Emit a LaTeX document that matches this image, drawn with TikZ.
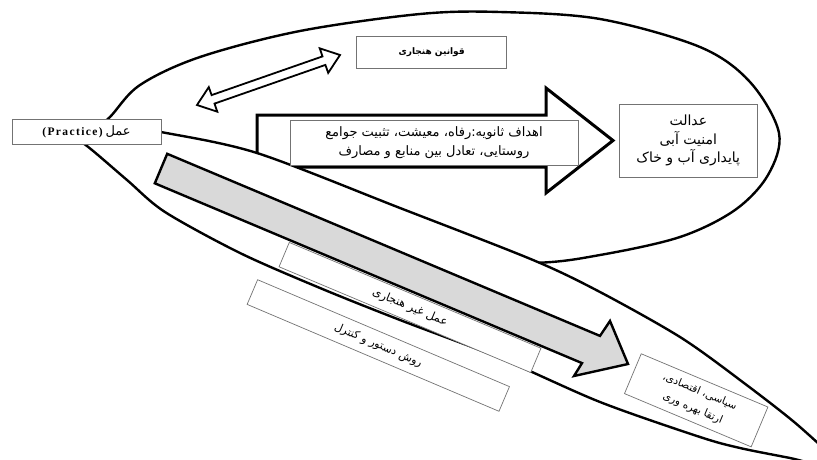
\documentclass[tikz,border=0pt]{standalone}
\usepackage{fontspec}
\setmainfont{Liberation Serif}
\newfontfamily\fa[Script=Arabic]{DejaVu Sans}
\TeXXeTstate=1
\begin{document}
\begin{tikzpicture}[x=1pt,y=-1pt,
  tbox/.style={draw=black!55, line width=0.7pt, fill=white, inner sep=0pt, align=center,
    font=\fa\fontsize{9}{16}\selectfont},
  shape line/.style={draw=black, line width=2.4pt, line join=round},
  arrow line/.style={draw=black, line width=3pt, line join=miter, fill=white},
  grey arrow/.style={draw=black, line width=2.4pt, line join=miter, fill=black!15},
  dbl arrow/.style={draw=black, line width=1.8pt, line join=miter, fill=white}]
\useasboundingbox (0,0) rectangle (817,459);
% upper ellipse
\draw[shape line] plot[smooth cycle, tension=0.55] coordinates {
  (86,140) (110,117) (140,85) (200,57) (300,31) (420,14) (500,12) (600,19)
  (700,47) (750,82) (779,133) (768,175) (735,210) (680,237) (600,255) (533,263)
  (400,262) (260,240) (180,205) (120,165)};
% double arrow
\draw[dbl arrow] (197,105) -- (208.8,87.1) -- (211.6,95.1) -- (322.5,56.4) -- (319.7,48.3)
  -- (340,55) -- (328.2,72.9) -- (325.4,64.9) -- (214.5,103.6) -- (217.3,111.7) -- cycle;
% block arrow
\draw[arrow line] (257,115) -- (546,115) -- (546,88) -- (613,140.5) -- (546,193)
  -- (546,167) -- (257,167) -- cycle;
% lower ellipse
\draw[shape line, fill=white] plot[smooth cycle, tension=0.5] coordinates {
  (55,124) (110,124) (161,132) (257,153) (400,208) (533,260) (600,292) (680,337)
  (740,380) (800,427) (840,468) (790,458) (740,448) (700,437) (600,402) (500,358)
  (400,320) (320,288) (240,253) (165,212) (127,180) (87,146)};
% boxes
\node[tbox, minimum width=150pt, minimum height=31.6pt] (qav) at (431.7,52.5)
  {\bfseries\beginR قوانین هنجاری\endR};
\node[tbox, minimum width=288pt, minimum height=45pt, font=\fa\fontsize{13}{19}\selectfont] (ahdaf) at (434,142.5)
  {\beginR اهداف ثانویه:رفاه، معیشت، تثبیت جوامع\endR\\ \beginR روستایی، تعادل بین منابع و مصارف\endR};
\node[tbox, minimum width=138pt, minimum height=73.3pt, font=\fa\fontsize{14}{18.5}\selectfont] (edalat) at (688.3,140.7)
  {\beginR عدالت\endR\\ \beginR امنیت آبی\endR\\ \beginR پایداری آب و خاک\endR};
\node[tbox, minimum width=149pt, minimum height=25pt, font=\fontsize{11.5}{13}\selectfont] (prac) at (86.5,131.5)
  {{\bfseries\addfontfeature{LetterSpace=12}(Practice)}\ {\fa\fontsize{13}{13}\selectfont\beginR عمل\endR}};
\node[tbox, rotate=-22.8, minimum width=273pt, minimum height=26.4pt, font=\fa\fontsize{11.5}{14}\selectfont] (amal) at (410,307.5)
  {\beginR عمل غیر هنجاری\endR};
\node[tbox, rotate=-23, minimum width=273.6pt, minimum height=26.8pt, font=\fa\fontsize{11}{14}\selectfont] (ravesh) at (378.3,345.5)
  {\beginR روش دستور و کنترل\endR};
\node[tbox, rotate=-22.8, minimum width=137.4pt, minimum height=43.2pt, font=\fa\fontsize{10.5}{18}\selectfont] (siasi) at (696.2,400.3)
  {\beginR سیاسی، اقتصادی،\endR\\ \beginR ارتقا بهره وری\endR};
% grey arrow
\draw[grey arrow] (167.2,153.8) -- (600,335.9) -- (610,321) -- (628,364) -- (574,376)
  -- (582,363.1) -- (154.8,183.3) -- cycle;
\end{tikzpicture}
\end{document}
